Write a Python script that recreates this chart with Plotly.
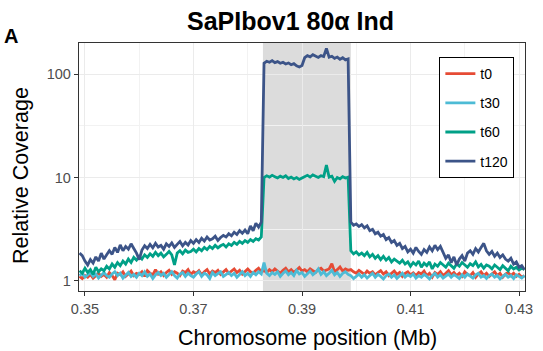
import plotly.graph_objects as go

# ---- data (coverage per 0.5 kb bin, starting at 0.349 Mb) ----
start_mb = 0.349
bin_mb = 0.0005

t0 = [1.10, 1.05, 1.12, 1.08, 1.15, 1.06, 1.12, 1.18, 1.10, 1.15, 1.08,
      1.20, 1.12, 1.02, 1.18, 1.14, 1.22, 1.10, 1.16, 1.24, 1.12, 1.18,
      1.15, 1.22, 1.10, 1.25, 1.18, 1.14, 1.28, 1.16, 1.22, 1.12, 1.20,
      1.26, 1.15, 1.22, 1.18, 1.12, 1.24, 1.20, 1.28, 1.15, 1.22,
      1.18, 1.25, 1.14, 1.22, 1.28, 1.16, 1.24, 1.20, 1.26, 1.15, 1.22,
      1.28, 1.18, 1.24, 1.30, 1.20, 1.26, 1.16, 1.24, 1.30, 1.22, 1.18, 1.26, 1.32, 1.22,
      1.25, 1.20, 1.28, 1.22, 1.30, 1.24, 1.18, 1.26, 1.32, 1.22, 1.28, 1.20, 1.26, 1.34, 1.24, 1.28,
      1.22, 1.30, 1.25, 1.20, 1.28, 1.32, 1.24, 1.26, 1.30, 1.46, 1.22, 1.28, 1.36, 1.24, 1.30, 1.26,
      1.28, 1.22, 1.18, 1.26, 1.20, 1.15, 1.24, 1.18, 1.22, 1.14, 1.20, 1.25, 1.16,
      1.22, 1.12, 1.18, 1.24, 1.15, 1.20, 1.10, 1.18, 1.22, 1.14, 1.19, 1.12, 1.20,
      1.16, 1.24, 1.12, 1.18, 1.08, 1.20, 1.15, 1.22, 1.12, 1.18, 1.25, 1.14, 1.20,
      1.12, 1.18, 1.10, 1.22, 1.15, 1.12, 1.20, 1.08, 1.16, 1.22, 1.12, 1.18, 1.10,
      1.15, 1.22, 1.12, 1.18, 1.08, 1.16, 1.20, 1.12, 1.18, 1.10, 1.15, 1.08, 1.12]

t30 = [1.12, 1.18, 1.08, 1.15, 1.20, 1.10, 1.16, 1.06, 1.14, 1.20, 1.12,
       1.08, 1.16, 1.22, 1.12, 1.18, 1.06, 1.14, 1.20, 1.10, 1.15, 1.08,
       1.18, 1.12, 1.22, 1.10, 1.16, 1.05, 1.14, 1.20, 1.12, 1.18, 1.08,
       1.15, 1.22, 1.12, 1.06, 1.16, 1.20, 1.10, 1.18, 1.12, 1.08,
       1.16, 1.22, 1.10, 1.18, 1.14, 1.05, 1.20, 1.12, 1.17, 1.22, 1.10,
       1.15, 1.20, 1.12, 1.18, 1.08, 1.16, 1.22, 1.12, 1.18, 1.10, 1.20, 1.14, 1.22, 1.16,
       1.50, 1.18, 1.12, 1.20, 1.15, 1.22, 1.10, 1.18, 1.24, 1.14, 1.20, 1.12, 1.26, 1.16, 1.20, 1.10,
       1.18, 1.24, 1.14, 1.20, 1.30, 1.15, 1.22, 1.12, 1.18, 1.26, 1.14, 1.20, 1.10, 1.18, 1.22, 1.15,
       1.12, 1.05, 1.10, 1.16, 1.08, 1.14, 1.06, 1.12, 1.18, 1.08, 1.15, 1.10, 1.04,
       1.12, 1.16, 1.08, 1.14, 1.05, 1.12, 1.18, 1.08, 1.14, 1.10, 1.16, 1.06, 1.12,
       1.08, 1.15, 1.10, 1.04, 1.12, 1.18, 1.08, 1.14, 1.06, 1.12, 1.16, 1.08, 1.14,
       1.10, 1.05, 1.14, 1.08, 1.16, 1.10, 1.06, 1.14, 1.18, 1.08, 1.12, 1.05, 1.12,
       1.16, 1.08, 1.12, 1.04, 1.10, 1.15, 1.08, 1.12, 1.05, 1.14, 1.10, 1.06, 1.12]

t60 = [1.25, 1.18, 1.32, 1.20, 1.28, 1.15, 1.35, 1.22, 1.30, 1.25, 1.38,
       1.30, 1.45, 1.35, 1.50, 1.40, 1.55, 1.45, 1.62, 1.50, 1.68, 1.58,
       1.72, 1.62, 1.78, 1.68, 1.82, 1.72, 1.88, 1.75, 1.85, 1.70, 1.80,
       1.92, 1.78, 1.42, 1.85, 1.95, 1.82, 1.98, 1.88, 1.92, 2.02,
       1.90, 2.05, 1.95, 2.10, 2.00, 2.15, 2.05, 2.20, 2.08, 2.18, 2.25,
       2.12, 2.28, 2.20, 2.35, 2.25, 2.40, 2.30, 2.45, 2.35, 2.50, 2.40, 2.55, 2.48, 2.65,
       10.0, 10.4, 10.1, 10.5, 10.2, 9.9, 10.3, 10.0, 10.4, 9.8, 10.1, 9.7, 10.0, 9.6, 9.9, 10.2,
       10.5, 10.1, 10.6, 10.3, 10.0, 10.4, 10.2, 13.2, 10.1, 10.3, 9.2, 10.0, 9.7, 10.2, 9.9, 10.1,
       1.95, 1.82, 1.90, 1.78, 1.85, 1.75, 1.88,
       1.70, 1.80, 1.65, 1.75, 1.60, 1.72, 1.58, 1.68, 1.52, 1.62, 1.55, 1.48,
       1.58, 1.45, 1.52, 1.38, 1.50, 1.42, 1.55, 1.35, 1.48, 1.40, 1.52, 1.30, 1.45, 1.38, 1.50, 1.42,
       1.35, 1.48, 1.40, 1.32, 1.45, 1.38, 1.50, 1.42, 1.35, 1.46, 1.40, 1.52, 1.36, 1.44, 1.32, 1.42,
       1.38, 1.30, 1.42, 1.35, 1.28, 1.40, 1.33, 1.25, 1.38, 1.30, 1.35, 1.27, 1.32, 1.28]

t120 = [1.85, 1.75, 1.55, 1.42, 1.60, 1.48, 1.70, 1.55, 1.85, 1.62, 1.78,
        1.95, 1.80, 2.10, 1.88, 2.22, 1.95, 2.15, 2.02, 2.28, 2.05, 1.85,
        1.60, 1.98, 2.18, 2.05, 2.25, 2.08, 2.30, 2.12, 2.20, 2.02, 2.28,
        2.15, 2.32, 2.10, 2.25, 2.40, 2.18, 2.35, 2.22, 2.45, 2.30,
        2.50, 2.35, 2.58, 2.42, 2.65, 2.48, 2.55, 2.70, 2.45, 2.62, 2.75,
        2.65, 2.85, 2.72, 2.95, 2.80, 3.05, 2.88, 3.10, 2.85, 3.40, 3.05, 3.60, 3.30, 3.70,
        128, 134, 131, 136, 130, 133, 128, 131, 126, 129, 124, 127, 121, 118, 122, 145,
        152, 148, 155, 150, 146, 152, 149, 178, 147, 150, 143, 147, 140, 145, 138, 141,
        3.70, 3.45, 3.55, 3.35, 3.50, 3.25, 3.40,
        3.05, 3.15, 2.85, 2.95,
        2.70, 2.80, 2.50, 2.62, 2.35, 2.45, 2.20, 2.30,
        2.05, 2.15, 1.90, 2.02, 1.85, 2.10, 1.92, 1.80, 2.00, 1.88, 2.12, 1.95,
        2.20, 2.00, 2.15, 1.85,
        1.65, 1.78, 1.50, 1.70, 1.42, 1.62, 1.75, 1.55,
        1.85, 1.95, 1.80, 2.05, 1.90, 2.10, 2.30,
        1.95, 1.80, 1.92, 1.72, 1.85, 1.68, 1.78, 1.62,
        1.55, 1.65, 1.45, 1.52, 1.35, 1.40, 1.28]

series_names = ["t0", "t30", "t60", "t120"]
series_values = [t0, t30, t60, t120]
series_colors = ["#E64B35", "#4DBBD5", "#00A087", "#3C5488"]

induced_region = [0.3828, 0.3990]

x_ticks = [0.35, 0.37, 0.39, 0.41, 0.43]
x_tick_labels = ["0.35", "0.37", "0.39", "0.41", "0.43"]
x_minor = [0.36, 0.38, 0.40, 0.42]
y_ticks = [1, 10, 100]
y_tick_labels = ["1", "10", "100"]
y_minor = [3.1623, 31.623]

FONT = "Liberation Sans, Arial, Helvetica, sans-serif"

fig = go.Figure()
for name, vals, col in zip(series_names, series_values, series_colors):
    xs = [round(start_mb + bin_mb * i, 5) for i in range(len(vals))]
    fig.add_trace(go.Scatter(
        x=xs, y=vals, mode="lines", name=name, legendgroup=name,
        line=dict(color=col, width=2.8),
    ))

fig.add_shape(type="rect", xref="x", yref="paper",
              x0=induced_region[0], x1=induced_region[1], y0=0, y1=1,
              fillcolor="#DCDCDC", line=dict(width=0), layer="below")

axis_common = dict(
    showline=True, mirror=True, linecolor="#333333", linewidth=1.4,
    ticks="outside", ticklen=4, tickcolor="#333333", tickwidth=1.1,
    showgrid=True, gridcolor="#EBEBEB", gridwidth=1.1, zeroline=False,
    tickfont=dict(family=FONT, size=14.5, color="#4D4D4D"),
)

fig.update_xaxes(range=[0.3489, 0.4311], tickmode="array", tickvals=x_ticks,
                 ticktext=x_tick_labels,
                 minor=dict(tickmode="array", tickvals=x_minor, showgrid=True,
                            gridcolor="#F2F2F2", gridwidth=0.6, ticks=""),
                 **axis_common)
fig.update_yaxes(type="log", range=[-0.1, 2.304], tickmode="array",
                 tickvals=y_ticks, ticktext=y_tick_labels,
                 minor=dict(tickmode="array", tickvals=y_minor, showgrid=True,
                            gridcolor="#F2F2F2", gridwidth=0.6, ticks=""),
                 **axis_common)

fig.update_layout(
    width=543, height=351, autosize=False,
    margin=dict(l=79, r=10, t=43, b=60),
    paper_bgcolor="white", plot_bgcolor="white",
    font=dict(family=FONT, color="black"),
    showlegend=True,
    legend=dict(x=0.808, y=0.9435, xanchor="left", yanchor="top",
                bordercolor="black", borderwidth=1, bgcolor="white",
                font=dict(family=FONT, size=14, color="black"),
                tracegroupgap=8, traceorder="grouped"),
    annotations=[
        dict(text="<b>SaPIbov1 80α Ind</b>", xref="paper", yref="paper",
             x=0.4736, y=1.0887, xanchor="center", yanchor="middle",
             showarrow=False, font=dict(family=FONT, size=25, color="black")),
        dict(text="Chromosome position (Mb)", xref="paper", yref="paper",
             x=0.513, y=-0.19, xanchor="center", yanchor="middle",
             showarrow=False, font=dict(family=FONT, size=21.5, color="black")),
        dict(text="Relative Coverage", xref="paper", yref="paper",
             x=-0.13, y=0.4637, xanchor="center", yanchor="middle",
             textangle=-90, showarrow=False,
             font=dict(family=FONT, size=21.5, color="black")),
        dict(text="<b>A</b>", xref="paper", yref="paper",
             x=-0.172, y=1.028, xanchor="left", yanchor="middle",
             showarrow=False, font=dict(family=FONT, size=20, color="black")),
    ],
)

fig.write_html("out.html")
